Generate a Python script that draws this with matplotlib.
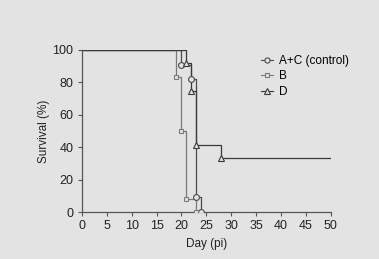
import matplotlib
matplotlib.use("Agg")
import matplotlib.pyplot as plt

plt.rcParams['font.family'] = ['Liberation Sans', 'DejaVu Sans']

ac_days = [0, 20, 22, 23, 24]
ac_surv = [100, 90.9, 81.8, 9.1, 0]
b_days = [0, 19, 20, 21, 23]
b_surv = [100, 83.3, 50, 8.3, 0]
d_days = [0, 21, 22, 23, 28, 50]
d_surv = [100, 91.7, 75, 41.7, 33.3, 33.3]

x_ticks = [0, 5, 10, 15, 20, 25, 30, 35, 40, 45, 50]
y_ticks = [0, 20, 40, 60, 80, 100]

bg = '#e3e3e3'
fig = plt.figure(figsize=(3.79, 2.59), dpi=100, facecolor=bg)
ax = fig.add_axes([0.216, 0.181, 0.657, 0.626], facecolor=bg)

series = [
    (ac_days, ac_surv, 'o', '#4a4a4a', 'A+C (control)', 4.2),
    (b_days, b_surv, 's', '#7a7a7a', 'B', 3.5),
    (d_days, d_surv, '^', '#3a3a3a', 'D', 4.2),
]
for days, surv, mk, col, lab, ms in series:
    ax.step(days, surv, where='post', color=col, lw=0.9, zorder=2)
    n = len(days)
    idx = list(range(1, n)) if days[-1] != 50 else list(range(1, n - 1))
    ax.plot([days[i] for i in idx], [surv[i] for i in idx], linestyle='none',
            marker=mk, ms=ms, mfc=bg, mec=col, mew=0.8, zorder=3)
    ax.plot([], [], color=col, lw=0.8, marker=mk, ms=ms - 0.5, mfc=bg, mec=col,
            mew=0.8, label=lab)

ax.set_xlim(0, 50)
ax.set_ylim(0, 100)
ax.set_xticks(x_ticks)
ax.set_yticks(y_ticks)
ax.tick_params(labelsize=9, length=3, width=0.8, color='#555555', labelcolor='#222222', pad=3)
for s in ['top', 'right']:
    ax.spines[s].set_visible(False)
for s in ['left', 'bottom']:
    ax.spines[s].set_color('#555555')
    ax.spines[s].set_linewidth(0.9)
ax.set_xlabel('Day (pi)', fontsize=8.5, color='#222222', labelpad=4)
ax.set_ylabel('Survival (%)', fontsize=8.5, color='#222222', labelpad=2)

ax.legend(loc='upper left', bbox_to_anchor=(0.7, 1.0), frameon=False, fontsize=8.5,
          handlelength=1.0, handletextpad=0.5, labelspacing=0.3, borderaxespad=0.0)

fig.savefig('out.png', dpi=100, facecolor=bg)
